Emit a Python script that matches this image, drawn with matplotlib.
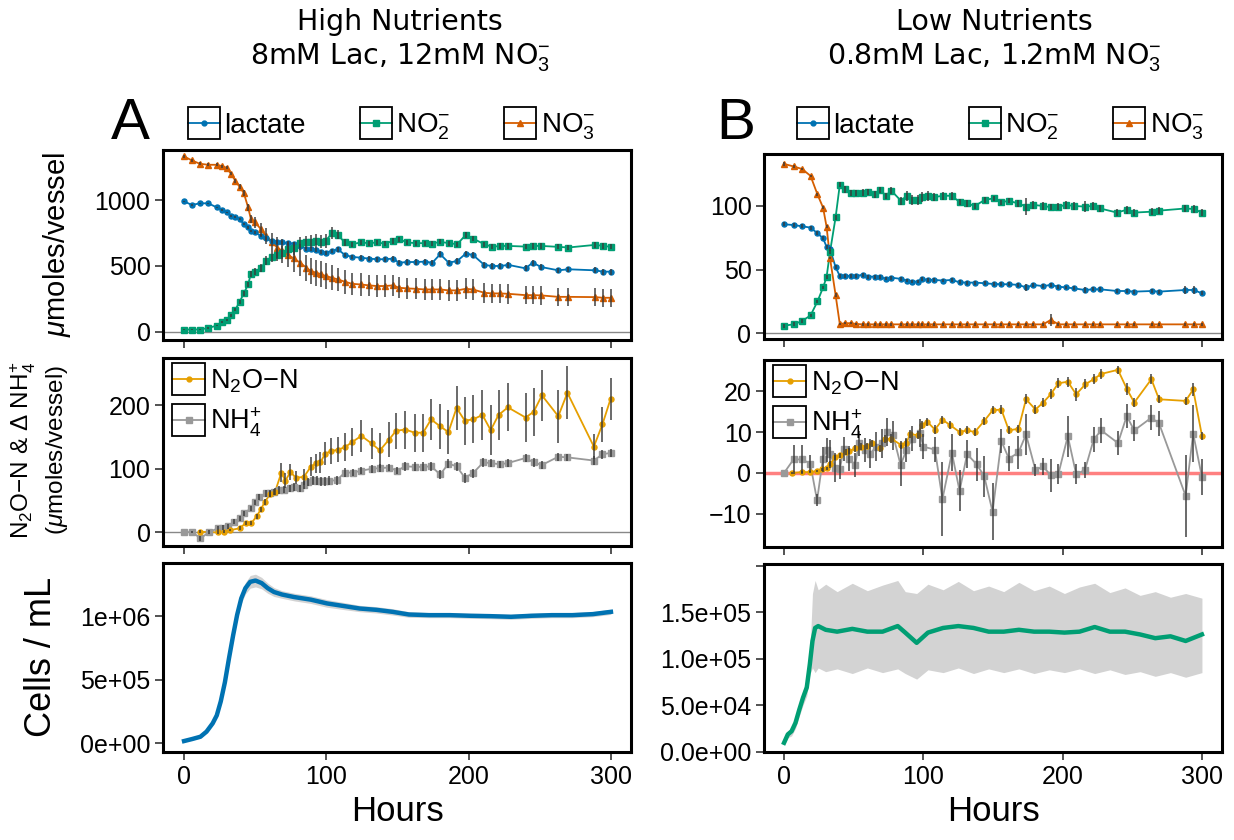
import matplotlib
matplotlib.use('Agg')
import matplotlib.pyplot as plt
from matplotlib.legend_handler import HandlerLine2D
from matplotlib.patches import Rectangle
from matplotlib.lines import Line2D

plt.rcParams['font.family'] = ['Liberation Sans', 'DejaVu Sans']
plt.rcParams['mathtext.fontset'] = 'custom'
plt.rcParams['mathtext.rm'] = 'Liberation Sans'
plt.rcParams['mathtext.it'] = 'Liberation Sans:italic'
plt.rcParams['mathtext.bf'] = 'Liberation Sans:bold'

# ---------------- data ----------------
# Panel A (high nutrients), top: lactate / NO2- / NO3- (umoles/vessel)
tA = [0, 5.5, 11, 17, 23, 27, 30, 33, 36, 39,
      42, 45, 47, 50, 54, 57.5, 62, 65.5, 69, 73,
      77, 81.5, 86, 89, 93, 96.5, 99.5, 104, 108, 113,
      118, 124, 130, 135.5, 141, 147, 151, 157, 163, 169,
      174.5, 180, 186, 192, 198, 203, 211, 216.5, 222, 228,
      240, 245, 251, 263, 270, 289, 294.5, 300]
lacA = [990, 962, 975, 975, 944, 924, 906, 878, 873, 855,
        817, 792, 766, 754, 728, 711, 690, 683, 678, 673,
        670, 652, 632, 627, 622, 609, 602, 614, 627, 584,
        569, 563, 556, 551, 551, 556, 525, 530, 530, 533,
        525, 589, 525, 538, 594, 584, 508, 500, 500, 508,
        482, 525, 492, 467, 475, 467, 457, 457]
lacA_err = [5, 5, 5, 5, 6, 6, 6, 8, 8, 8,
            10, 10, 10, 10, 12, 12, 14, 15, 15, 15,
            15, 15, 15, 15, 15, 15, 15, 18, 18, 18,
            18, 18, 18, 18, 18, 18, 18, 20, 20, 20,
            20, 22, 20, 20, 22, 22, 22, 20, 20, 20,
            22, 22, 22, 20, 20, 22, 22, 22]
no2A = [18, 18, 18, 30, 48, 74, 92, 125, 168, 228,
        292, 360, 441, 457, 482, 540, 568, 580, 600, 625,
        634, 673, 678, 683, 690, 683, 690, 749, 736, 678,
        665, 678, 673, 678, 670, 690, 703, 678, 673, 673,
        670, 683, 673, 665, 736, 708, 665, 645, 652, 652,
        647, 652, 652, 645, 640, 660, 652, 645]
no2A_err = [4, 4, 4, 5, 6, 8, 8, 10, 12, 15,
            18, 20, 22, 25, 30, 35, 40, 45, 50, 50,
            50, 50, 50, 50, 50, 50, 50, 45, 35, 25,
            20, 20, 20, 20, 20, 20, 20, 20, 20, 20,
            20, 20, 20, 20, 25, 20, 20, 20, 20, 20,
            20, 20, 20, 20, 20, 20, 20, 20]
no3A = [1330, 1300, 1275, 1267, 1267, 1256, 1244, 1198, 1147, 1100,
        1053, 944, 855, 830, 779, 728, 678, 640, 614, 584,
        558, 525, 487, 462, 449, 437, 424, 411, 398, 381,
        365, 360, 353, 348, 348, 353, 335, 330, 327, 322,
        322, 322, 315, 315, 327, 322, 297, 292, 292, 289,
        279, 279, 277, 266, 266, 264, 259, 259]
no3A_err = [12, 12, 12, 12, 12, 12, 12, 12, 15, 18,
            20, 25, 30, 40, 50, 60, 70, 80, 90, 95,
            100, 100, 100, 100, 100, 100, 95, 95, 90, 90,
            85, 85, 80, 80, 80, 80, 80, 80, 80, 80,
            80, 80, 80, 80, 80, 80, 75, 75, 75, 75,
            70, 70, 70, 70, 70, 70, 70, 70]

# Panel B (low nutrients), top
tB = [0, 7, 13, 19, 24, 28, 30.5, 33, 37, 40,
      44, 48, 52, 56.5, 60.5, 65, 69, 73, 77, 84,
      88, 92, 96, 99, 103, 108, 114, 120.5, 126, 131.5,
      137, 144, 150.5, 156, 161.5, 168, 174, 179, 186, 191.5,
      197, 202.5, 208, 216, 221.5, 227, 239, 246, 251.5, 264,
      269, 288, 294, 300]
lacB = [85.6, 85, 84, 83, 78.5, 74.6, 68, 66, 52, 45,
        45, 45, 45, 46, 44.5, 44.5, 44, 43, 43.7, 42.7,
        41.4, 40.6, 40.6, 42.7, 41.9, 41.9, 41.4, 41.9, 40, 39.8,
        39.8, 39.3, 38.7, 38.5, 38.5, 38, 36, 38, 37, 38,
        36.6, 36, 35.3, 34, 34.5, 34.5, 33.2, 33.2, 32.7, 33.2,
        32.7, 34, 34, 31.4]
lacB_err = [1.5, 1.5, 1.5, 1.5, 1.5, 1.5, 1.5, 1.5, 1.5, 1.5,
            1.5, 1.5, 1.5, 1.5, 1.5, 1.5, 1.5, 1.5, 1.5, 1.5,
            1.5, 1.5, 1.5, 1.5, 1.5, 1.5, 1.5, 1.5, 1.5, 1.5,
            1.5, 1.5, 1.5, 1.5, 1.5, 1.5, 2.5, 1.5, 1.5, 1.5,
            1.5, 1.5, 1.5, 2.0, 1.5, 1.5, 1.5, 1.5, 1.5, 1.5,
            1.5, 3.5, 3.5, 1.5]
no2B = [6, 7, 9.7, 14, 25, 36, 44, 64, 91, 116.5,
        113, 110, 110, 110.5, 111, 109, 112.6, 108, 112, 104,
        108, 104.7, 104.7, 107, 108, 107, 108, 108, 103, 102,
        100, 104.7, 106, 103, 104, 102, 99.5, 100.8, 100, 99,
        99.5, 100.8, 100, 99.5, 100, 98, 94.8, 97, 94.8, 95.5,
        96.3, 98, 97.6, 94.8]
no2B_err = [1.5, 1.5, 1.5, 1.5, 1.5, 1.5, 1.5, 1.5, 2, 2,
            3, 2.5, 2.5, 2.5, 2.5, 2.5, 2.5, 2.5, 2.5, 3,
            4, 4, 4, 4, 4, 3, 3, 3, 2.5, 2.5,
            2.5, 2.5, 2, 2, 2, 2.5, 7, 3, 3, 2.5,
            3, 3, 3, 4, 3, 2.5, 3, 3, 2.5, 2.5,
            2.5, 3, 3, 2.5]
no3B = [133, 131, 129, 123.6, 109, 98.7, 83.8, 59, 30, 7.3,
        7.9, 7.9, 7.3, 7, 7, 7, 7, 7, 7, 7,
        7, 7, 7, 7, 7, 7, 7, 7, 7, 7,
        7, 7, 7, 7, 7, 7, 7, 7, 7, 10.5,
        7, 7, 7, 7, 7, 7, 7, 7, 7, 7,
        7, 7, 7, 7]
no3B_err = [1.5, 1, 1, 1, 1, 1, 1, 1, 1.5, 1,
            1, 1, 1, 1, 1, 1, 1, 1, 1, 1,
            1, 1, 1, 1, 1, 1, 1, 1, 1, 1,
            1, 1, 1, 1, 1, 1, 1, 1, 1, 4.5,
            1, 1, 1, 1, 1, 1, 1, 1, 1, 1,
            1, 1, 1, 1]

# Panel A, middle: N2O-N and delta NH4+
tA_n2o = [11.5, 23.7, 28, 32.3, 39, 43.3, 47.3, 51, 54, 56.8,
          60.6, 64, 68.4, 71.2, 74.7, 78.5, 84.2, 89, 92.9, 95.8,
          99.2, 103.5, 107.9, 113, 118, 124.6, 131.8, 137.6, 144, 149,
          155.5, 162, 168, 173.6, 180, 185.8, 191.5, 197.3, 203, 209.7,
          215.5, 221, 227.6, 240, 245.7, 251.5, 263, 269.4, 288, 294,
          299.7]
n2oA = [0.5, -0.5, 0.5, 3, 6, 14, 14, 25, 36, 48,
        60, 64, 94, 81, 95, 86, 87, 103, 109, 110,
        124, 128, 130, 134, 142, 152, 140, 129, 146, 160,
        162, 157, 157, 178, 167, 158, 196, 176, 178, 185,
        161, 185, 197, 181, 190, 216, 183, 220, 135, 170,
        210]
n2oA_err = [2, 2, 2, 2, 3, 3, 3, 4, 4, 5,
            5, 6, 15, 12, 12, 10, 12, 15, 15, 16,
            18, 20, 20, 22, 22, 25, 25, 28, 28, 28,
            30, 30, 30, 32, 35, 35, 35, 38, 38, 40,
            40, 40, 38, 38, 38, 40, 42, 42, 20, 28,
            33]
tA_nh4 = [0, 5.8, 11.5, 17.3, 23.7, 27.4, 30.9, 35.2, 39, 42.4,
          46.7, 50.2, 53, 57.4, 60.3, 63.2, 66.9, 70.5, 74.7, 77.6,
          81.2, 84.2, 87, 90.5, 93.4, 96.3, 99.2, 102, 107.3, 113,
          118.8, 124.6, 131.8, 137.6, 144, 149.7, 155.5, 162, 168, 173.6,
          180, 185.8, 191.5, 197.3, 203, 210.3, 216, 221.8, 227.6, 240,
          245.7, 251.5, 263, 269.4, 288, 294, 299.7]
nh4A = [0, 0, -10, -0.5, 6, 7, 9.5, 16, 21.6, 29.5,
        37.5, 47, 55, 61, 61, 63, 66, 67, 69, 71,
        69, 74, 79, 82, 81, 80, 80, 81, 82, 94,
        94, 97, 100, 101, 102, 97, 104, 103, 103, 104,
        91, 108, 104, 86, 93, 110, 109, 107, 109, 117,
        110, 106, 119, 118, 113, 123, 125]
nh4A_err = [0, 2, 4, 3, 4, 4, 4, 4, 4, 4,
            4, 4, 5, 5, 5, 5, 6, 6, 6, 6,
            6, 6, 7, 7, 7, 7, 7, 7, 7, 7,
            6, 6, 6, 6, 6, 6, 7, 7, 7, 7,
            7, 7, 7, 8, 7, 7, 6, 6, 6, 6,
            7, 7, 6, 6, 7, 7, 7]

# Panel B, middle
tB_n2o = [6, 12.8, 18.8, 23.7, 27.3, 30.5, 33.3, 36.8, 40, 44.2,
          46.9, 51, 55, 59.2, 63.3, 68.7, 72.8, 76.9, 83.7, 87.8,
          90.5, 96, 98.7, 102.8, 108.3, 113.7, 119.2, 126, 131.4, 136.9,
          143.7, 149.7, 156, 161.4, 168.3, 173.7, 180.5, 186, 191.4, 196.9,
          203.7, 209.7, 216.4, 222.3, 227.7, 239.7, 246, 251.4, 263.7, 269.2,
          288.3, 293.7, 300]
n2oB = [0, 0.2, 0.2, 0.5, 0.9, 1.1, 2.3, 3.8, 4.3, 5.1,
        5.3, 6, 6.4, 6.6, 7.2, 6, 8.2, 8.4, 6.9, 7.3,
        9.5, 9.2, 11.7, 12.5, 10.6, 13, 11.7, 10, 10.4, 10,
        12.7, 15.3, 15.5, 10.4, 10.8, 18, 15.5, 17.2, 19.2, 21.9,
        22.3, 19.2, 21.7, 22.9, 24.2, 25.2, 20.6, 17.2, 22.9, 18,
        17.6, 20.4, 9.1]
n2oB_err = [0.2, 0.3, 0.3, 0.3, 0.4, 0.4, 0.5, 0.6, 0.6, 0.7,
            0.7, 0.8, 0.8, 0.8, 0.9, 0.9, 1.0, 1.0, 1.0, 1.0,
            1.0, 1.0, 1.0, 1.0, 1.0, 1.0, 1.0, 1.0, 1.0, 1.0,
            1.0, 1.0, 1.0, 1.0, 1.0, 1.2, 1.2, 1.2, 1.2, 1.2,
            1.2, 1.5, 1.2, 1.2, 1.2, 1.0, 1.5, 1.2, 1.2, 1.0,
            1.0, 1.5, 1.0]
tB_nh4 = [0, 6.8, 12.8, 18.8, 23.7, 27.8, 30.5, 33.3, 36.8, 40,
          42.8, 46.9, 51, 53.7, 57.8, 61.9, 66, 70.1, 74.2, 78.3,
          83.7, 87.8, 91.9, 97.4, 100.1, 108.3, 113.7, 120.5, 126, 131.4,
          138.3, 143.7, 149.7, 156, 161.4, 168.3, 173.7, 180.5, 186, 191.4,
          196.9, 203.7, 209.7, 216, 222.3, 227.7, 239.7, 246, 251.4, 263.7,
          269.2, 288.3, 293.7, 300]
nh4B = [0, 3.3, 3.3, 2.3, -6.7, 3.3, 5.6, 4.6, 1.3, 0.9,
        5.8, 3.5, 1.9, 7.2, 5.6, 4.7, 6.4, 7.2, 10, 9.2,
        1.9, 5.6, 8.4, 9.8, 6.4, 5.7, -6.4, 4.9, -4.4, 4.6,
        2.1, -0.8, -9.5, 7.8, 3.5, 5, 9.4, 0.7, 1.6, -0.6,
        -0.3, 9, -0.3, 0.7, 8.2, 10.4, 7.3, 13.9, 10.4, 13.5,
        12.1, -5.6, 9.6, -1]
nh4B_err = [0, 3.5, 3.5, 2, 1.5, 3, 3, 3.5, 3.5, 2.5,
            3, 3, 3, 3, 3, 3.5, 3.5, 3.5, 3.5, 3.5,
            5, 3, 3, 3.5, 3, 3, 9, 4.5, 5, 3.5,
            4, 5, 7, 3, 3, 4, 5, 1.5, 2, 4,
            2.5, 5, 2.5, 2, 3, 3, 3, 3, 2.5, 3,
            3, 10, 7, 4.5]

# Bottom: cells / mL
tA_cells = [0, 5.7, 11.5, 15.8, 20.1, 23, 25.8, 28.7, 31.6, 34.5,
            37.3, 40.2, 43.1, 46.5, 50.2, 54.5, 58.8, 63.2, 68.9, 77.5,
            89, 100.5, 112, 123.5, 135, 146.5, 158, 172.3, 186.7, 201,
            215.4, 229.7, 244.1, 258.5, 272.8, 287.2, 300]
cellsA = [0.018e6, 0.034e6, 0.052e6, 0.092e6, 0.157e6, 0.22e6, 0.33e6, 0.48e6, 0.67e6, 0.85e6,
          1.01e6, 1.14e6, 1.22e6, 1.27e6, 1.28e6, 1.26e6, 1.22e6, 1.19e6, 1.17e6, 1.15e6,
          1.13e6, 1.10e6, 1.08e6, 1.06e6, 1.05e6, 1.034e6, 1.013e6, 1.008e6, 1.008e6, 1.003e6,
          1.0e6, 0.995e6, 1.003e6, 1.008e6, 1.008e6, 1.016e6, 1.034e6]
cellsA_sd = [0.008e6, 0.008e6, 0.01e6, 0.01e6, 0.012e6, 0.015e6, 0.02e6, 0.02e6, 0.025e6, 0.03e6,
             0.035e6, 0.04e6, 0.045e6, 0.05e6, 0.05e6, 0.045e6, 0.04e6, 0.035e6, 0.03e6, 0.03e6,
             0.03e6, 0.03e6, 0.028e6, 0.025e6, 0.025e6, 0.025e6, 0.022e6, 0.02e6, 0.02e6, 0.02e6,
             0.02e6, 0.02e6, 0.02e6, 0.02e6, 0.02e6, 0.02e6, 0.02e6]
tB_cells = [0, 2.7, 5.4, 8.2, 10.9, 13.6, 16.3, 18.5, 20.4, 22.3,
            24.5, 29.9, 38.1, 49, 59.8, 70.7, 81.6, 87, 95.2, 103.3,
            114.2, 125.1, 136, 146.9, 157.7, 168.6, 179.5, 190.4, 201.3, 212.1,
            223, 233.9, 244.8, 255.6, 266.5, 277.4, 288.3, 300]
cellsB = [0.096e5, 0.186e5, 0.22e5, 0.31e5, 0.45e5, 0.58e5, 0.69e5, 0.94e5, 1.19e5, 1.33e5,
          1.35e5, 1.31e5, 1.29e5, 1.32e5, 1.29e5, 1.29e5, 1.35e5, 1.28e5, 1.17e5, 1.28e5,
          1.33e5, 1.35e5, 1.33e5, 1.29e5, 1.29e5, 1.31e5, 1.29e5, 1.29e5, 1.28e5, 1.29e5,
          1.34e5, 1.29e5, 1.29e5, 1.26e5, 1.22e5, 1.24e5, 1.19e5, 1.26e5]
cellsB_hi = [0.12e5, 0.22e5, 0.27e5, 0.37e5, 0.52e5, 0.66e5, 0.78e5, 1.05e5, 1.70e5, 1.84e5,
             1.74e5, 1.80e5, 1.72e5, 1.81e5, 1.73e5, 1.79e5, 1.84e5, 1.72e5, 1.70e5, 1.80e5,
             1.74e5, 1.83e5, 1.73e5, 1.78e5, 1.72e5, 1.82e5, 1.73e5, 1.78e5, 1.70e5, 1.77e5,
             1.81e5, 1.71e5, 1.76e5, 1.68e5, 1.72e5, 1.66e5, 1.70e5, 1.65e5]
cellsB_lo = [0.07e5, 0.15e5, 0.17e5, 0.25e5, 0.38e5, 0.50e5, 0.60e5, 0.83e5, 0.90e5, 0.85e5,
             0.90e5, 0.86e5, 0.89e5, 0.84e5, 0.90e5, 0.85e5, 0.89e5, 0.84e5, 0.78e5, 0.88e5,
             0.85e5, 0.90e5, 0.84e5, 0.89e5, 0.85e5, 0.89e5, 0.84e5, 0.88e5, 0.85e5, 0.89e5,
             0.84e5, 0.88e5, 0.83e5, 0.86e5, 0.81e5, 0.85e5, 0.80e5, 0.85e5]

x_ticks = [0, 100, 200, 300]

# ---------------- style ----------------
C_LAC = '#0072B2'
C_NO2 = '#009E73'
C_NO3 = '#D55E00'
C_N2O = '#E69F00'
C_NH4 = '#999999'
C_ERR = '#3a3a3a'

W, H = 1234, 840
fig = plt.figure(figsize=(W / 100, H / 100), dpi=100)


def add_ax(x0, y0, x1, y1):
    return fig.add_axes([x0 / W, 1 - y1 / H, (x1 - x0) / W, (y1 - y0) / H])


class BoxedLine(HandlerLine2D):
    def __init__(self, box_h=1.15, **kw):
        super().__init__(**kw)
        self.box_h = box_h

    def create_artists(self, legend, orig_handle, xdescent, ydescent,
                       width, height, fontsize, trans):
        arts = super().create_artists(legend, orig_handle, xdescent, ydescent,
                                      width, height, fontsize, trans)
        h = fontsize * self.box_h
        cy = height / 2 - ydescent
        r = Rectangle((-xdescent, cy - h / 2), width, h, fill=False,
                      edgecolor='black', linewidth=1.3, transform=trans)
        return list(arts) + [r]


def style(ax, xlim, ylim, xlabels):
    ax.set_xlim(*xlim)
    ax.set_ylim(*ylim)
    for s in ax.spines.values():
        s.set_linewidth(2.2)
    ax.set_xticks(x_ticks)
    ax.tick_params(direction='out', length=6, width=1.3, color='#444444',
                   labelsize=18, pad=3)
    if not xlabels:
        ax.set_xticklabels([])


def series(ax, t, y, err, color, marker, ms):
    ax.plot(t, y, color=color, lw=1.3, zorder=3)
    ax.plot(t, y, color=color, marker=marker, ms=ms, lw=0, zorder=4)
    ax.errorbar(t, y, yerr=err, fmt='none', ecolor=C_ERR, elinewidth=1.25,
                capsize=0, zorder=5, alpha=0.85)


XA = (-14.8, 314.1)
XB = (-14.4, 314.4)

axA1 = add_ax(163, 150, 631, 340)
axA2 = add_ax(163, 358, 631, 546)
axA3 = add_ax(163, 563, 631, 752)
axB1 = add_ax(764, 154, 1222, 339)
axB2 = add_ax(764, 360, 1222, 547)
axB3 = add_ax(764, 564, 1222, 752)

# top panels
for ax, t, lac, lace, no2, no2e, no3, no3e, xl, yl, yt in [
        (axA1, tA, lacA, lacA_err, no2A, no2A_err, no3A, no3A_err, XA, (-61, 1379), [0, 500, 1000]),
        (axB1, tB, lacB, lacB_err, no2B, no2B_err, no3B, no3B_err, XB, (-4.5, 140.8), [0, 50, 100])]:
    ax.axhline(0, color='#888888', lw=1, zorder=1)
    series(ax, t, no3, no3e, C_NO3, '^', 4.2)
    series(ax, t, lac, lace, C_LAC, 'o', 3.6)
    series(ax, t, no2, no2e, C_NO2, 's', 4.2)
    style(ax, xl, yl, False)
    ax.set_yticks(yt)

handles_top = [Line2D([], [], color=C_LAC, marker='o', ms=3.5, lw=1.3),
               Line2D([], [], color=C_NO2, marker='s', ms=4, lw=1.3),
               Line2D([], [], color=C_NO3, marker='^', ms=4, lw=1.3)]
labels_top = ['lactate', 'NO$_2^{-}$', 'NO$_3^{-}$']
for ax, x0 in [(axA1, 188), (axB1, 797)]:
    ax.legend(handles_top, labels_top, loc='center left',
              bbox_to_anchor=(x0 / W, 1 - 127 / H), bbox_transform=fig.transFigure,
              ncol=3, frameon=False, fontsize=20, handlelength=1.15,
              handletextpad=0.15, columnspacing=1.95, borderpad=0, borderaxespad=0,
              handler_map={Line2D: BoxedLine(box_h=1.15)})

# middle panels
for ax, tn, n2o, n2oe, th, nh4, nh4e, xl, yl, yt, zc, zlw in [
        (axA2, tA_n2o, n2oA, n2oA_err, tA_nh4, nh4A, nh4A_err, XA, (-22, 275), [0, 100, 200], '#888888', 1.0),
        (axB2, tB_n2o, n2oB, n2oB_err, tB_nh4, nh4B, nh4B_err, XB, (-18.1, 27.6), [-10, 0, 10, 20], '#ff8080', 2.5)]:
    ax.axhline(0, color=zc, lw=zlw, zorder=1)
    series(ax, th, nh4, nh4e, C_NH4, 's', 4.2)
    series(ax, tn, n2o, n2oe, C_N2O, 'o', 3.6)
    style(ax, xl, yl, False)
    ax.set_yticks(yt)
    ax.set_yticklabels(['\u2212' + str(-v) if v < 0 else str(v) for v in yt])
    hm = [Line2D([], [], color=C_N2O, marker='o', ms=3.5, lw=1.3),
          Line2D([], [], color=C_NH4, marker='s', ms=4, lw=1.3)]
    ax.legend(hm, ['N$_2$O\u2212N', 'NH$_4^{+}$'], loc='upper left',
              frameon=False, fontsize=19.5, handlelength=1.2, handletextpad=0.2,
              labelspacing=0.4, borderpad=0.15, borderaxespad=0.2,
              handler_map={Line2D: BoxedLine(box_h=1.15)})

# bottom panels
axA3.fill_between(tA_cells, [m - s for m, s in zip(cellsA, cellsA_sd)],
                  [m + s for m, s in zip(cellsA, cellsA_sd)], color='#d3d3d3', lw=0)
axA3.plot(tA_cells, cellsA, color=C_LAC, lw=3.2)
style(axA3, XA, (-6.8e4, 1.418e6), True)
axA3.set_yticks([0, 5e5, 1e6])
axA3.set_yticklabels(['0e+00', '5e+05', '1e+06'])

axB3.fill_between(tB_cells, cellsB_lo, cellsB_hi, color='#d3d3d3', lw=0)
axB3.plot(tB_cells, cellsB, color=C_NO2, lw=3.2)
style(axB3, XB, (-300, 2.017e5), True)
axB3.set_yticks([0, 5e4, 1e5, 1.5e5, 2e5])
axB3.set_yticklabels(['0.0e+00', '5.0e+04', '1.0e+05', '1.5e+05', ''])

for ax in [axA3, axB3]:
    ax.set_xlabel('Hours', fontsize=25, labelpad=5)

# y labels
fig.text(57 / W, 1 - 245 / H, '$\\mu$moles/vessel', rotation=90, ha='center', va='center', fontsize=21)
fig.text(23 / W, 1 - 450 / H, 'N$_2$O\u2212N & \u0394 NH$_4^{+}$', rotation=90, ha='center', va='center', fontsize=17.5)
fig.text(57 / W, 1 - 450 / H, '($\\mu$moles/vessel)', rotation=90, ha='center', va='center', fontsize=17.5)
fig.text(42 / W, 1 - 657 / H, 'Cells / mL', rotation=90, ha='center', va='center', fontsize=26)

# panel letters
fig.text(130 / W, 1 - 124 / H, 'A', ha='center', va='center', fontsize=42)
fig.text(736 / W, 1 - 124 / H, 'B', ha='center', va='center', fontsize=42)

# column titles
for x, l1, l2 in [(400, 'High Nutrients', '8mM Lac, 12mM NO$_3^{-}$'),
                  (994, 'Low Nutrients', '0.8mM Lac, 1.2mM NO$_3^{-}$')]:
    fig.text(x / W, 1 - 22 / H, l1, ha='center', va='center', fontsize=20.5, family='DejaVu Sans')
    fig.text(x / W, 1 - 58 / H, l2, ha='center', va='center', fontsize=20.5, family='DejaVu Sans')

fig.savefig('out.png', dpi=100)
